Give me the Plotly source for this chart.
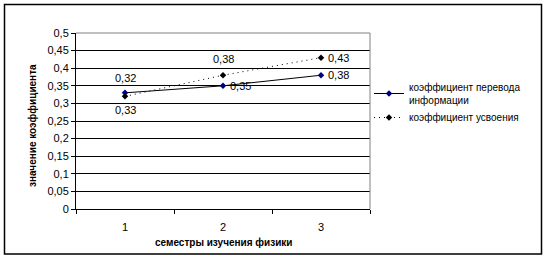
import plotly.graph_objects as go

categories = ["1", "2", "3"]
transfer = [0.33, 0.35, 0.38]
assimilation = [0.32, 0.38, 0.43]
y_ticks = [0, 0.05, 0.1, 0.15, 0.2, 0.25, 0.3, 0.35, 0.4, 0.45, 0.5]

# label placement per point: (xanchor, xshift, yshift)
transfer_label_pos = [("center", 0, -17), ("left", 5, 0), ("left", 5, 0)]
assimilation_label_pos = [("center", 0, 18), ("center", 0, 16), ("left", 5, 0)]

def fmt(v):
    return f"{v:.2f}".rstrip("0").rstrip(".").replace(".", ",") if v != 0 else "0"

W, H = 547, 261
L, R, T, B = 76, 370, 33, 209

def px(x):
    return (x - L) / (R - L)

def py(y):
    return (B - y) / (B - T)

FONT = "Liberation Sans, Arial, sans-serif"

fig = go.Figure()
fig.add_trace(go.Scatter(
    x=categories, y=transfer, mode="lines+markers",
    name="коэффициент перевода<br>информации",
    line=dict(color="#000000", width=1),
    marker=dict(symbol="diamond", size=5, color="#000080"),
))
fig.add_trace(go.Scatter(
    x=categories, y=assimilation, mode="lines+markers",
    name="коэффициент усвоения",
    line=dict(color="#000000", width=1, dash="1px,4px"),
    marker=dict(symbol="diamond", size=5, color="#000000"),
))

annotations = []
for vals, poss in ((transfer, transfer_label_pos), (assimilation, assimilation_label_pos)):
    for i, (v, (xa, xs, ys)) in enumerate(zip(vals, poss)):
        annotations.append(dict(
            x=i, y=v, xref="x", yref="y", text=fmt(v), showarrow=False,
            xanchor=xa, yanchor="middle", xshift=xs, yshift=ys,
            font=dict(family=FONT, size=11, color="black")))

annotations += [
    dict(text="<b>значение коэффициента</b>", textangle=-90,
         xref="paper", yref="paper", x=px(33), y=py(126),
         xanchor="center", yanchor="middle", showarrow=False,
         font=dict(family=FONT, size=10)),
    dict(text="<b>семестры изучения физики</b>",
         xref="paper", yref="paper", x=px(223), y=py(242),
         xanchor="center", yanchor="middle", showarrow=False,
         font=dict(family=FONT, size=10)),
]

fig.update_layout(
    width=W, height=H,
    margin=dict(l=L, r=W - R, t=T, b=H - B, pad=0),
    paper_bgcolor="white", plot_bgcolor="white",
    font=dict(family=FONT, size=11, color="black"),
    showlegend=True,
    legend=dict(x=px(369), y=py(74), xanchor="left", yanchor="top",
                font=dict(family=FONT, size=10, color="black"),
                bgcolor="rgba(0,0,0,0)", borderwidth=0,
                itemwidth=30, tracegroupgap=4),
    xaxis=dict(
        type="category", range=[-0.5, 2.5],
        showgrid=False, zeroline=False,
        showline=True, linecolor="black", linewidth=1,
        ticks="outside", tickson="boundaries", ticklen=4, tickcolor="black",
        ticklabelstandoff=8,
        tickfont=dict(family=FONT, size=11),
    ),
    yaxis=dict(
        range=[0, 0.5], tickvals=y_ticks, ticktext=[fmt(v) for v in y_ticks],
        showgrid=True, gridcolor="black", gridwidth=1,
        zeroline=False, showline=True, linecolor="black", linewidth=1,
        ticks="outside", ticklen=4, tickcolor="black",
        tickfont=dict(family=FONT, size=11),
    ),
    annotations=annotations,
    shapes=[
        dict(type="line", xref="paper", yref="paper", x0=0, x1=1, y0=1, y1=1,
             line=dict(color="#808080", width=1), layer="above"),
        dict(type="line", xref="paper", yref="paper", x0=1, x1=1, y0=0, y1=1,
             line=dict(color="#808080", width=1), layer="above"),
        dict(type="rect", xref="paper", yref="paper",
             x0=px(4.5), x1=px(541.5), y0=py(254), y1=py(4.5),
             line=dict(color="black", width=1.5), layer="above"),
    ],
)

fig.write_html("out.html")
